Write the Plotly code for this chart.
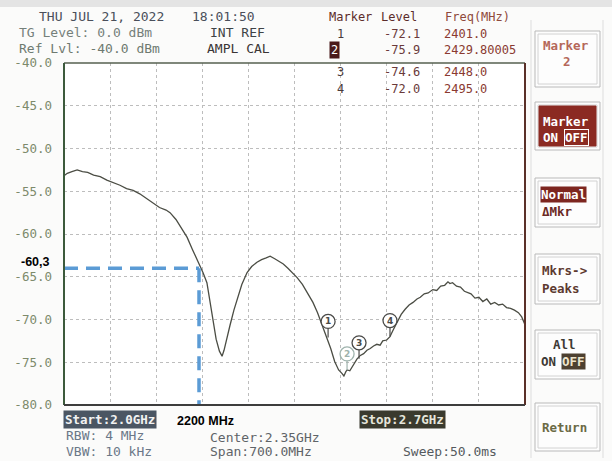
import plotly.graph_objects as go

# ---------------- data ----------------
freq_mhz = [2000, 2005, 2012, 2020, 2028, 2036, 2045, 2055, 2065, 2075, 2085, 2095,
            2105, 2115, 2125, 2135, 2145, 2155, 2161, 2170, 2180, 2187, 2195, 2200,
            2206, 2211, 2217, 2221, 2226, 2231, 2236, 2240, 2243, 2247, 2252, 2258,
            2264, 2270, 2278, 2285, 2293, 2300, 2307, 2313, 2320, 2327, 2333, 2340,
            2347, 2354, 2362, 2370, 2378, 2385, 2392, 2399, 2405, 2411, 2417, 2422,
            2425, 2428, 2430, 2434, 2438, 2442, 2445, 2450, 2455, 2460, 2465, 2470,
            2475, 2480, 2484, 2490, 2495, 2500, 2506, 2512, 2518, 2524, 2530, 2536,
            2541, 2547, 2553, 2560, 2566, 2572, 2578, 2583, 2586, 2590, 2596, 2602,
            2608, 2612, 2618, 2624, 2630, 2636, 2642, 2648, 2654, 2660, 2666, 2672,
            2678, 2684, 2690, 2695, 2700]
level_dbm = [-53.2, -52.9, -52.7, -52.5, -52.7, -52.8, -53.1, -53.3, -53.7, -54.0, -54.3, -54.7,
             -54.9, -55.3, -55.8, -56.3, -56.9, -57.2, -57.5, -58.3, -59.5, -60.4, -61.8, -62.6,
             -63.6, -64.5, -65.7, -67.5, -70.1, -72.3, -73.7, -74.3, -73.6, -72.2, -70.7, -68.9,
             -67.4, -65.9, -64.5, -63.8, -63.3, -63.0, -62.8, -62.6, -62.9, -63.2, -63.5, -64.0,
             -64.5, -65.1, -65.9, -66.9, -68.0, -69.2, -70.6, -72.0, -73.4, -74.9, -75.9, -76.3,
             -76.6, -76.1, -75.9, -76.0, -75.5, -74.9, -74.6, -74.2, -74.0, -73.6, -73.4, -73.1,
             -72.9, -73.0, -72.5, -72.4, -72.0, -71.2, -70.2, -69.4, -68.8, -68.3, -68.0, -67.6,
             -67.4, -67.0, -66.9, -66.5, -66.6, -66.1, -66.0, -65.6, -65.8, -65.7, -66.1, -66.2,
             -66.7, -66.8, -67.0, -67.5, -67.4, -67.9, -67.6, -68.2, -68.0, -68.3, -68.2, -68.6,
             -68.7, -68.9, -69.2, -69.7, -70.6]

marker_ids = ["1", "2", "3", "4"]
marker_freq = [2401.0, 2429.80005, 2448.0, 2495.0]
marker_level = [-72.1, -75.9, -74.6, -72.0]

y_ticks = [-40, -45, -50, -55, -60, -65, -70, -75, -80]
x_start, x_stop, x_div = 2000, 2700, 70

guide_freq = 2205
guide_level = -64.0
guide_freq_label = "2200 MHz"
guide_level_label = "-60,3"

header_lines = [("THU JUL 21, 2022", "18:01:50"),
                ("TG Level: 0.0 dBm", "INT REF"),
                ("Ref Lvl: -40.0 dBm", "AMPL CAL")]

# ---------------- geometry helpers ----------------
L, R, T, B = 64, 525, 63, 405
W, H = 612, 461
MONO = "DejaVu Sans Mono"


def P(x, y):
    return (x - L) / (R - L), (B - y) / (B - T)


annotations = []
shapes = []


def txt(s, x, y, color, size=13, xanchor="left", bold=False, bg=None,
        family=MONO, border=None, pad=1):
    px_, py_ = P(x, y)
    d = dict(text=f"<b>{s}</b>" if bold else s, x=px_, y=py_, xref="paper", yref="paper",
             xanchor=xanchor, yanchor="middle", showarrow=False,
             font=dict(family=family, size=size, color=color), borderpad=pad)
    if bg:
        d["bgcolor"] = bg
    if border:
        d["bordercolor"] = border
        d["borderwidth"] = 1
    annotations.append(d)


def rect(x0, y0, x1, y1, color, fill=None, width=1):
    a, b = P(x0, y0)
    c, d = P(x1, y1)
    s = dict(type="rect", xref="paper", yref="paper", x0=a, y0=b, x1=c, y1=d,
             line=dict(color=color, width=width), layer="above")
    if fill:
        s["fillcolor"] = fill
    shapes.append(s)


def line(x0, y0, x1, y1, color, width=1):
    a, b = P(x0, y0)
    c, d = P(x1, y1)
    shapes.append(dict(type="line", xref="paper", yref="paper", x0=a, y0=b, x1=c, y1=d,
                       line=dict(color=color, width=width), layer="above"))


fig = go.Figure()

# trace
fig.add_trace(go.Scatter(x=freq_mhz, y=level_dbm, mode="lines",
                         line=dict(color="#4b4d44", width=1.3), hoverinfo="skip"))

# blue guide lines
fig.add_trace(go.Scatter(x=[x_start, guide_freq], y=[guide_level, guide_level], mode="lines",
                         line=dict(color="#5b9bd5", width=3.5, dash="14px,8px"),
                         hoverinfo="skip"))
fig.add_trace(go.Scatter(x=[guide_freq, guide_freq], y=[guide_level, y_ticks[-1]], mode="lines",
                         line=dict(color="#5b9bd5", width=3.5, dash="14px,8px"),
                         hoverinfo="skip"))

# markers
for mid, f, lv in zip(marker_ids, marker_freq, marker_level):
    col = "#9fb3ad" if mid == "2" else "#4a4a48"
    shapes.append(dict(type="line", xref="x", yref="y", xsizemode="pixel", ysizemode="pixel",
                       xanchor=f, yanchor=lv, x0=0, x1=0, y0=0, y1=9,
                       line=dict(color=col, width=1.2)))
    shapes.append(dict(type="circle", xref="x", yref="y", xsizemode="pixel", ysizemode="pixel",
                       xanchor=f, yanchor=lv, x0=-7, x1=7, y0=9, y1=23,
                       line=dict(color=col, width=1.3), fillcolor="white"))
    annotations.append(dict(text=f"<b>{mid}</b>", x=f, y=lv, xref="x", yref="y", yshift=16,
                            showarrow=False, font=dict(family="DejaVu Sans", size=9, color=col)))

# frame
rect(0, 0, W, 7, "#e4e4e4", fill="#e4e4e4", width=0)
line(L, T, R, T, "#56604f", 1.6)
line(L, T, L, B, "#3c5a3c", 2)
line(R, T, R, B, "#5a3028", 2)
line(L, B, R, B, "#3d3d3d", 2)

# header
hx = [(37, 190), (17, 208), (17, 205)]
hy = [16, 32, 48]
hcol = [("#4a4f5a", "#4a4f5a"), ("#75807a", "#3f4346"), ("#6e7a70", "#3a3535")]
for (a, b), (xa, xb), yy, (ca, cb) in zip(header_lines, hx, hy, hcol):
    txt(a, xa, yy, ca)
    txt(b, xb, yy, cb)

# marker table
TB = 12
txt("Marker", 327, 17, "#5b2c2a", TB)
txt("Level", 379, 17, "#5b2c2a", TB)
txt("Freq(MHz)", 443, 17, "#8f4a3c", TB)
row_y = [34, 50, 72, 89]
for mid, f, lv, yy in zip(marker_ids, marker_freq, marker_level, row_y):
    if mid == "2":
        txt(mid, 334, yy, "white", TB, xanchor="center", bg="#4a1a1a", pad=1)
    else:
        txt(mid, 340, yy, "#4a3a3a", TB, xanchor="center")
    txt(str(lv), 382, yy, "#6a3a3a", TB)
    txt(str(f), 442, yy, "#8a3a30", TB)

# softkeys
line(531, 20, 531, 458, "#dddddd", 1)
line(603, 20, 603, 458, "#dddddd", 1)
boxes = [(31, 87), (102, 150), (178, 227), (254, 304), (330, 379), (403, 451)]
for y0, y1 in boxes:
    rect(535, y0, 600, y1, "#b9b9b9", fill="#fdfdfd")
    rect(538, y0 + 3, 597, y1 - 3, "#d2d2d2")
rect(539, 106, 596, 146, "#8b2a22", fill="#8b2a22")

SK = 12.5
txt("Marker", 541, 45, "#b5685a", SK, bold=True)
txt("2", 567, 62, "#b5685a", SK, xanchor="center", bold=True)
txt("Marker", 541, 121, "white", SK, bold=True)
txt("ON", 541, 137, "white", SK, bold=True)
txt("OFF", 564, 137, "white", SK, bold=True, border="white", pad=0)
txt("Normal", 540, 194, "white", SK, bold=True, bg="#7d2620", pad=0)
txt("ΔMkr", 540, 211, "#6b2a25", SK, bold=True)
txt("Mkrs->", 540, 270, "#5d3a30", SK, bold=True)
txt("Peaks", 540, 288, "#5d3a30", SK, bold=True)
txt("All", 551, 344, "#3d3a35", SK, bold=True)
txt("ON", 539, 361, "#3d3a35", SK, bold=True)
txt("OFF", 561, 361, "#ece4cc", SK, bold=True, bg="#4d4030", pad=0)
txt("Return", 540, 427, "#6b6a45", SK, bold=True)

# bottom info
txt("Start:2.0GHz", 63, 419, "#f2f2f2", 12.5, bold=True, bg="#4b5663", pad=1)
txt("Stop:2.7GHz", 359, 419, "#e6e6dc", 12.5, bold=True, bg="#3a3a2e", pad=1)
txt("RBW: 4 MHz", 64, 436, "#6b7888")
txt("VBW: 10 kHz", 64, 451, "#6b7888")
txt("Center:2.35GHz", 208, 437, "#5f6468")
txt("Span:700.0MHz", 208, 451, "#5f6468")
txt("Sweep:50.0ms", 401, 452, "#555a5e")

# overlay annotations (black)
txt(guide_freq_label, 175, 421, "black", 12.5, bold=True, family="Liberation Sans")
txt(guide_level_label, 19, 262, "black", 12.5, bold=True, family="Liberation Sans")

fig.update_layout(
    width=W, height=H, autosize=False,
    margin=dict(l=L, r=W - R, t=T, b=H - B, pad=0),
    paper_bgcolor="#fbfbfa", plot_bgcolor="#ffffff",
    showlegend=False, hovermode=False,
    xaxis=dict(range=[x_start, x_stop], tick0=x_start, dtick=x_div, showgrid=True,
               gridcolor="#bdbdbd", griddash="dot", gridwidth=1, showticklabels=False,
               zeroline=False, showline=False, ticks=""),
    yaxis=dict(range=[y_ticks[-1], y_ticks[0]], tickvals=y_ticks,
               ticktext=[f"{v:.1f}" for v in y_ticks], showgrid=True,
               gridcolor="#bdbdbd", griddash="dot", gridwidth=1, zeroline=False,
               showline=False, ticks="", ticklabelstandoff=11,
               tickfont=dict(family=MONO, size=12.5, color="#7d8a6b")),
    annotations=annotations,
    shapes=shapes,
)

fig.write_html("out.html", config={"displayModeBar": False},
               post_script="document.body.style.margin='0';document.body.style.overflow='hidden';")
